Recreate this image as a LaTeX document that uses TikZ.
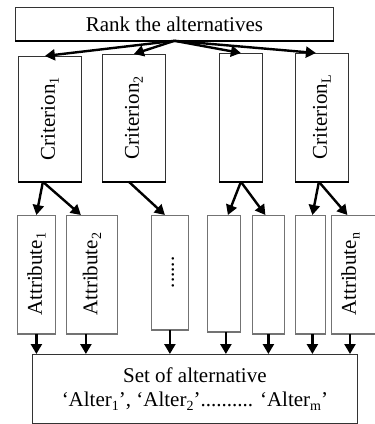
\documentclass[tikz,border=0pt]{standalone}
\usepackage{fontspec}
\setmainfont{Liberation Serif}
\usetikzlibrary{arrows.meta,calc}
\newcommand{\lowsub}[1]{\raisebox{-0.4ex}{\fontsize{14}{14}\selectfont #1}}
\begin{document}
\begin{tikzpicture}[x=1pt,y=-1pt,
  box/.style={draw=black!80, line width=0.8pt, anchor=north west, inner sep=0pt, align=center,
    font=\fontsize{21}{24}\selectfont},
  abox/.style={box, draw=black!55},
  arr/.style={line width=2.4pt, -{Triangle[length=10pt,width=11pt]}},
  base/.style={line width=2.2pt}
]
\useasboundingbox (0,0) rectangle (375,424);
\node[box, minimum width=318pt, minimum height=33pt] (top) at (15,7) {\raisebox{-4pt}{Rank the alternatives}};
\node[box, minimum width=63pt, minimum height=125pt] (c1) at (18,56) {\rotatebox{90}{Criterion\lowsub{1}}};
\node[box, minimum width=63pt, minimum height=127pt] (c2) at (102,54) {\rotatebox{90}{Criterion\lowsub{2}}};
\node[box, minimum width=43pt, minimum height=128pt] (c3) at (219,53) {};
\node[box, minimum width=53pt, minimum height=128pt] (c4) at (295,53) {\rotatebox{90}{Criterion\lowsub{L}}};
\node[abox, minimum width=38pt, minimum height=118pt] (a1) at (17,215) {\rotatebox{90}{Attribute\lowsub{1}}};
\node[abox, minimum width=51pt, minimum height=118pt] (a2) at (66,215) {\rotatebox{90}{Attribute\lowsub{2}}};
\node[abox, minimum width=37pt, minimum height=114pt] (a3) at (151,215) {\hspace{6pt}\rotatebox{90}{......}};
\node[abox, minimum width=33pt, minimum height=116pt] (a4) at (207,215) {};
\node[abox, minimum width=32pt, minimum height=118pt] (a5) at (252,215) {};
\node[abox, minimum width=30pt, minimum height=118pt] (a6) at (295,215) {};
\node[abox, minimum width=50pt, minimum height=118pt] (a7) at (331,215) {\hspace{-12pt}\rotatebox{90}{Attribute\lowsub{n}}};
\node[box, minimum width=325pt, minimum height=69pt] (bot) at (32,354) {Set of alternative\\ ‘Alter\lowsub{1}’, ‘Alter\lowsub{2}’.......... ‘Alter\lowsub{m}’};
% thick lower edges
\foreach \n in {top,c1,c2,c3,c4} \draw[base] (\n.south west) -- (\n.south east);
\foreach \n in {a1,a2,a3,a4,a5,a6,a7} \draw[base, black!55] (\n.south west) -- (\n.south east);
% rank -> criteria
\draw[arr] (top.south) -- ($(c1.north)+(-5,0)$);
\draw[arr] (top.south) -- (c2.north);
\draw[arr] (top.south) -- (c3.north);
\draw[arr] (top.south) -- ($(c4.north)+(-6,0)$);
% criteria -> attributes
\draw[arr] ($(c1.south)+(-7,0)$) -- (a1.north);
\draw[arr] ($(c1.south)+(-7,0)$) -- ($(a2.north)+(-11,0)$);
\draw[arr] ($(c2.south)+(-5,0)$) -- ($(a3.north)+(-5,0)$);
\draw[arr] (c3.south) -- ($(a4.north)+(4,0)$);
\draw[arr] (c3.south) -- ($(a5.north)+(-3,0)$);
\draw[arr] ($(c4.south)+(-3,0)$) -- ($(a6.north)+(2,0)$);
\draw[arr] ($(c4.south)+(-3,0)$) -- ($(a7.north)+(-9,0)$);
% attributes -> set
\draw[arr] (a1.south) coordinate (t1) -- (t1 |- bot.north);
\draw[arr] ($(a2.south)+(-6,0)$) coordinate (t2) -- (t2 |- bot.north);
\draw[arr] (a3.south) coordinate (t3) -- (t3 |- bot.north);
\draw[arr] ($(a4.south)+(2,0)$) coordinate (t4) -- (t4 |- bot.north);
\draw[arr] (a5.south) coordinate (t5) -- (t5 |- bot.north);
\draw[arr] ($(a6.south)+(2,0)$) coordinate (t6) -- (t6 |- bot.north);
\draw[arr] ($(a7.south west)+(19,0)$) coordinate (t7) -- (t7 |- bot.north);
\end{tikzpicture}
\end{document}
